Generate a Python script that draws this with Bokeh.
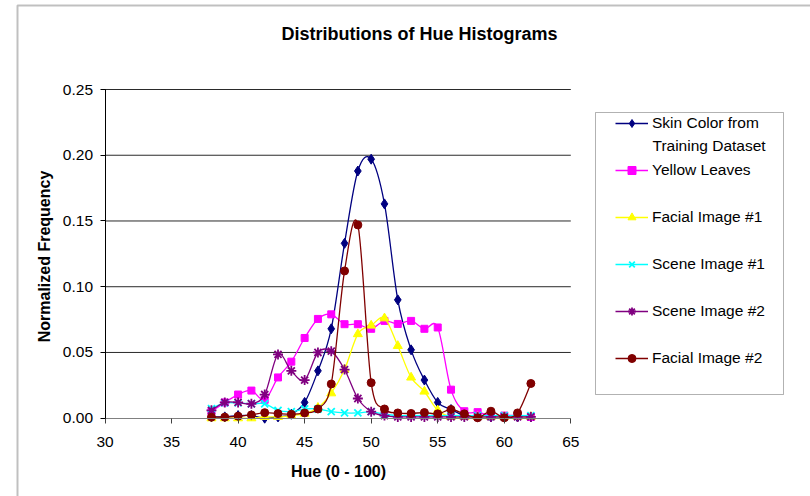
import numpy as np
from bokeh.plotting import figure
from bokeh.models import (Range1d, FixedTicker, PrintfTickFormatter, Legend, LegendItem,
                          Label, BoxAnnotation, ColumnDataSource, LinearAxis)
from bokeh.embed import file_html
from bokeh.resources import INLINE

# Hue bins (0 - 100 scale) and normalized histogram frequencies per source
hue = list(range(38, 63))

skin_training = [0.001, 0.001, 0.002, 0.002, 0.000, 0.001, 0.003, 0.012, 0.036, 0.068,
                 0.133, 0.188, 0.197, 0.163, 0.090, 0.052, 0.029, 0.012, 0.0066, 0.002,
                 0.001, 0.001, 0.001, 0.001, 0.001]
yellow_leaves = [0.005, 0.012, 0.018, 0.021, 0.014, 0.031, 0.043, 0.061, 0.0755, 0.079,
                 0.0715, 0.0715, 0.068, 0.074, 0.0717, 0.074, 0.068, 0.069, 0.0217, 0.0053,
                 0.0046, 0.002, 0.002, 0.002, 0.001]
facial_1 = [0.0, 0.0, 0.0, 0.0, 0.001, 0.001, 0.002, 0.0035, 0.008, 0.019,
            0.037, 0.064, 0.0705, 0.076, 0.055, 0.031, 0.0203, 0.006, 0.001, 0.001,
            0.001, 0.001, 0.001, 0.001, 0.001]
scene_1 = [0.0073, 0.0116, 0.0116, 0.011, 0.011, 0.006, 0.005, 0.007, 0.007, 0.005,
           0.004, 0.004, 0.005, 0.003, 0.002, 0.002, 0.002, 0.002, 0.002, 0.002,
           0.002, 0.002, 0.002, 0.002, 0.002]
scene_2 = [0.006, 0.012, 0.012, 0.011, 0.018, 0.0485, 0.036, 0.029, 0.050, 0.051,
           0.037, 0.015, 0.005, 0.002, 0.001, 0.001, 0.001, 0.001, 0.001, 0.001,
           0.001, 0.001, 0.001, 0.001, 0.001]
facial_2 = [0.0008, 0.0008, 0.0015, 0.0025, 0.0042, 0.0035, 0.003, 0.004, 0.007, 0.026,
            0.112, 0.147, 0.027, 0.007, 0.004, 0.0036, 0.0043, 0.0033, 0.0066, 0.0033,
            0.0003, 0.0053, 0.0003, 0.004, 0.0264]

series_names = ["Skin Color from", "Yellow Leaves", "Facial Image #1",
                "Scene Image #1", "Scene Image #2", "Facial Image #2"]
series_values = [skin_training, yellow_leaves, facial_1, scene_1, scene_2, facial_2]

x_ticks = [30, 35, 40, 45, 50, 55, 60, 65]
y_ticks = [0.0, 0.05, 0.10, 0.15, 0.20, 0.25]

colors = ["#000080", "#FF00FF", "#FFFF00", "#00FFFF", "#800080", "#800000"]
markers = ["diamond", "square", "triangle", "x", "asterisk", "circle"]
sizes = [10, 7, 9, 10, 10, 8]

FONT = "Liberation Sans"
W, H = 810, 496

# Page layout of the plotting area (pixels from the top-left corner)
AREA_LEFT, AREA_RIGHT = 104.5, 570.3      # x = 30 .. 65
AREA_BOTTOM, AREA_TOP = 417.7, 89.0       # y = 0 .. 0.25
x_lo, x_hi = x_ticks[0], x_ticks[-1]
y_lo, y_hi = y_ticks[0], y_ticks[-1]
px_per_x = (AREA_RIGHT - AREA_LEFT) / (x_hi - x_lo)
px_per_y = (AREA_BOTTOM - AREA_TOP) / (y_hi - y_lo)

# The frame covers the whole canvas; the axes sit at fixed locations inside it
x_range = Range1d(x_lo - AREA_LEFT / px_per_x, x_lo + (W - AREA_LEFT) / px_per_x)
y_range = Range1d(y_lo - (H - AREA_BOTTOM) / px_per_y, y_lo + AREA_BOTTOM / px_per_y)

p = figure(width=W, height=H, x_range=x_range, y_range=y_range,
           output_backend="svg", toolbar_location=None,
           x_axis_location=None, y_axis_location=None,
           min_border=0, min_border_left=0, min_border_right=0,
           min_border_top=0, min_border_bottom=0,
           background_fill_color="white", border_fill_color="white", outline_line_color=None)
p.title.visible = False
p.xgrid.visible = False
p.ygrid.visible = False


def sx(px):  # canvas x in screen units
    return px


def sy(py):  # screen units measured upward from the canvas bottom
    return H - py


# horizontal gridlines over the value axis span
grid_y = y_ticks[1:]
p.segment(x0=[x_lo] * len(grid_y), x1=[x_hi] * len(grid_y), y0=grid_y, y1=grid_y,
          line_color="#2a2a2a", line_width=1)

xaxis = LinearAxis(fixed_location=y_lo, bounds=(x_lo, x_hi), ticker=FixedTicker(ticks=x_ticks))
yaxis = LinearAxis(fixed_location=x_lo, bounds=(y_lo, y_hi), ticker=FixedTicker(ticks=y_ticks),
                   formatter=PrintfTickFormatter(format="%.2f"))
for ax in (xaxis, yaxis):
    ax.major_tick_in = 0
    ax.major_tick_out = 5
    ax.minor_tick_line_color = None
    ax.major_label_text_font = FONT
    ax.major_label_text_font_size = "15.5px"
    ax.major_label_text_color = "black"
xaxis.axis_line_color = "#808080"
xaxis.major_tick_line_color = "#404040"
xaxis.major_label_standoff = 14
yaxis.axis_line_color = "black"
yaxis.major_tick_line_color = "black"
yaxis.major_label_standoff = 7
p.add_layout(xaxis, "below")
p.add_layout(yaxis, "left")


def smooth_segments(xs, ys):
    """Cubic Bezier control points for a Catmull-Rom style smoothed line."""
    x = np.asarray(xs, dtype=float)
    y = np.asarray(ys, dtype=float)
    xp = np.concatenate([[x[0]], x, [x[-1]]])
    yp = np.concatenate([[y[0]], y, [y[-1]]])
    n = len(x) - 1
    i = np.arange(n)
    return dict(
        x0=x[:-1], y0=y[:-1], x1=x[1:], y1=y[1:],
        cx0=x[:-1] + (xp[i + 2] - xp[i]) / 6.0, cy0=y[:-1] + (yp[i + 2] - yp[i]) / 6.0,
        cx1=x[1:] - (xp[i + 3] - xp[i + 1]) / 6.0, cy1=y[1:] - (yp[i + 3] - yp[i + 1]) / 6.0,
    )


items = []
for name, vals, col, mk, sz in zip(series_names, series_values, colors, markers, sizes):
    seg = ColumnDataSource(smooth_segments(hue, vals))
    curve = p.bezier(x0="x0", y0="y0", x1="x1", y1="y1", cx0="cx0", cy0="cy0",
                     cx1="cx1", cy1="cy1", source=seg, line_color=col, line_width=1.3)
    lw = 1.8 if mk in ("x", "asterisk") else 1
    pts = p.scatter(hue, vals, marker=mk, size=sz, fill_color=col, line_color=col, line_width=lw)
    items.append(LegendItem(label=name, renderers=[curve, pts]))

# legend entries (bottom-left corner given in screen units)
legend = Legend(items=items, location=(sx(615), sy(368)), orientation="vertical",
                glyph_width=33, glyph_height=20, label_height=20, label_standoff=4,
                spacing=27, padding=0, margin=0, border_line_alpha=0,
                background_fill_alpha=0, label_text_font=FONT,
                label_text_font_size="15.5px", label_text_color="black")
p.add_layout(legend)

# legend frame
p.add_layout(BoxAnnotation(left=sx(595), right=sx(783), top=sy(112), bottom=sy(394),
                           left_units="screen", right_units="screen",
                           top_units="screen", bottom_units="screen",
                           fill_alpha=0, line_color="black", line_width=1))
# second line of the first legend entry
p.add_layout(Label(x=sx(652), y=sy(145), x_units="screen", y_units="screen",
                   text="Training Dataset", text_align="left", text_baseline="middle",
                   text_font=FONT, text_font_size="15.5px", text_color="black"))

# chart area border
p.add_layout(BoxAnnotation(left=sx(17), right=sx(1000), top=sy(5), bottom=sy(1100),
                           left_units="screen", right_units="screen",
                           top_units="screen", bottom_units="screen",
                           fill_alpha=0, line_color="#2e2e2e", line_width=2))

# titles
p.add_layout(Label(x=sx(419), y=sy(33), x_units="screen", y_units="screen",
                   text="Distributions of Hue Histograms", text_align="center",
                   text_baseline="middle", text_font=FONT, text_font_style="bold",
                   text_font_size="18px", text_color="black"))
p.add_layout(Label(x=sx(338), y=sy(471), x_units="screen", y_units="screen",
                   text="Hue (0 - 100)", text_align="center",
                   text_baseline="middle", text_font=FONT, text_font_style="bold",
                   text_font_size="16px", text_color="black"))
p.add_layout(Label(x=sx(44), y=sy(256), x_units="screen", y_units="screen",
                   text="Normalized Frequency", text_align="center", angle=np.pi / 2,
                   text_baseline="middle", text_font=FONT, text_font_style="bold",
                   text_font_size="16px", text_color="black"))

open("out.html", "w").write(file_html(p, INLINE))
